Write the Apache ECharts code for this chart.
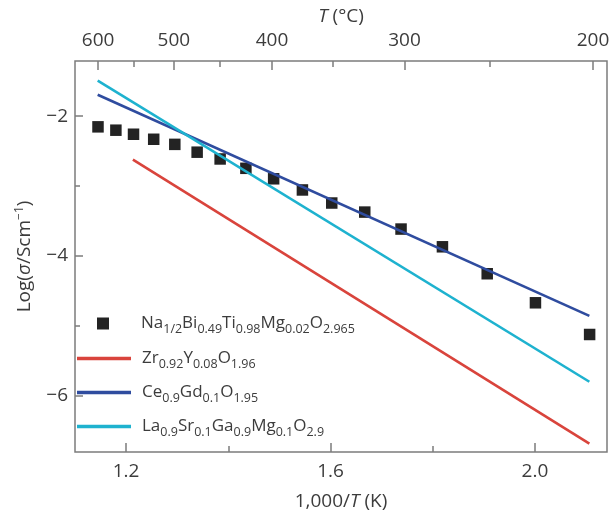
<!DOCTYPE html>
<html>
<head>
<meta charset="utf-8">
<script src="https://cdn.jsdelivr.net/npm/echarts@6/dist/echarts.min.js"></script>
<style>html,body{margin:0;padding:0;background:#fff}#c{width:609px;height:510px}</style>
</head>
<body>
<div id="c"></div>
<script>
// ---- data ----
const nbtX = [1.145, 1.180, 1.2145, 1.254, 1.2953, 1.339, 1.384, 1.4344, 1.4887, 1.545, 1.6024, 1.667, 1.738, 1.819, 1.9066, 2.001, 2.107];
const nbtY = [-2.153, -2.201, -2.259, -2.331, -2.404, -2.516, -2.613, -2.747, -2.897, -3.057, -3.244, -3.374, -3.617, -3.871, -4.257, -4.673, -5.127];
const zrX = [1.2133, 2.1065];
const zrY = [-2.623, -6.69];
const ceX = [1.1444, 2.1065];
const ceY = [-1.694, -4.861];
const laX = [1.1444, 2.1065];
const laY = [-1.49, -5.804];
const xMajorTicks = [1.2, 1.6, 2.0];
const xMinorTicks = [1.4, 1.8];
const topMajorT = [600, 500, 400, 300, 200];
const topMinorT = [550, 450, 350, 250];
const yMajorTicks = [-2, -4, -6];
const yMinorTicks = [-3, -5];
const seriesNames = ['NBT', 'YSZ', 'CGO', 'LSGM'];
const legendLabels = {
  NBT: '{m|Na}{s|1/2}{m|Bi}{s|0.49}{m|Ti}{s|0.98}{m|Mg}{s|0.02}{m|O}{s|2.965}',
  YSZ: '{m|Zr}{s|0.92}{m|Y}{s|0.08}{m|O}{s|1.96}',
  CGO: '{m|Ce}{s|0.9}{m|Gd}{s|0.1}{m|O}{s|1.95}',
  LSGM: '{m|La}{s|0.9}{m|Sr}{s|0.1}{m|Ga}{s|0.9}{m|Mg}{s|0.1}{m|O}{s|2.9}'
};

// ---- setup ----
const X_MIN = 1.1, X_MAX = 2.141, Y_MIN = -6.81, Y_MAX = -1.21;
const FONT = 'Open Sans';
const TXT = '#3c3c3c';
const AX = '#7c7c7c';
const RED = '#d9443c', BLUE = '#2f4c9f', CYAN = '#1eb2cf', BLK = '#232323';
const toK = t => 1000 / (t + 273.15);
const pairs = (xs, ys) => xs.map((x, i) => [x, ys[i]]);
const minus = v => (v < 0 ? '\u2212' : '') + Math.abs(v);

const legendRich = {
  m: { fontSize: 17, lineHeight: 22, color: TXT, fontFamily: FONT },
  s: { fontSize: 12.5, lineHeight: 13, padding: [12, 0, 0, 0], color: TXT, fontFamily: FONT }
};
function mkLegend(name, top, left, icon, w, h, padLeft) {
  return {
    data: [{ name: name, icon: icon, itemStyle: { opacity: 1 } }],
    left: left, top: top, itemWidth: w, itemHeight: h, itemGap: 0,
    padding: 0, selectedMode: false,
    formatter: n => legendLabels[n],
    textStyle: { rich: legendRich, color: TXT, fontFamily: FONT, padding: [0, 0, 0, padLeft] }
  };
}

const baseX = { type: 'value', min: X_MIN, max: X_MAX, splitLine: { show: false }, axisLine: { show: false } };
const baseY = { type: 'value', min: Y_MIN, max: Y_MAX, splitLine: { show: false }, axisLine: { show: false } };
const tickStyle = { color: AX, width: 1.5 };
const labStyle = { color: TXT, fontSize: 19, fontFamily: FONT };

const option = {
  animation: false,
  backgroundColor: '#fff',
  textStyle: { fontFamily: FONT },
  grid: { left: 75, right: 2, top: 61, bottom: 58, outerBoundsMode: 'none', containLabel: false,
          show: true, borderColor: AX, borderWidth: 1.5, backgroundColor: 'transparent' },
  legend: [
    mkLegend('NBT', 311, 97, 'rect', 12, 12, 27),
    mkLegend('YSZ', 346, 77, 'rect', 54, 3.5, 6),
    mkLegend('CGO', 380, 77, 'rect', 54, 3.5, 6),
    mkLegend('LSGM', 414, 77, 'rect', 54, 3.5, 6)
  ],
  xAxis: [
    Object.assign({}, baseX, {
      position: 'bottom',
      axisTick: { inside: true, length: 9, customValues: xMajorTicks, lineStyle: tickStyle },
      axisLabel: Object.assign({ customValues: xMajorTicks, formatter: v => v.toFixed(1), margin: 10 }, labStyle),
      name: '1,000/{i|T} (K)', nameLocation: 'middle', nameGap: 40,
      nameTextStyle: { color: TXT, fontSize: 19, fontFamily: FONT, rich: { i: { fontStyle: 'italic', fontSize: 19, color: TXT, fontFamily: FONT } } }
    }),
    Object.assign({}, baseX, {
      position: 'bottom',
      axisTick: { inside: true, length: 6, customValues: xMinorTicks, lineStyle: tickStyle },
      axisLabel: { show: false }
    }),
    Object.assign({}, baseX, {
      position: 'top',
      axisTick: { inside: true, length: 9, customValues: topMajorT.map(toK), lineStyle: tickStyle },
      axisLabel: Object.assign({ customValues: topMajorT.map(toK), formatter: v => String(Math.round(1000 / v - 273.15)), margin: 11 }, labStyle),
      name: '{i|T} (\u00B0C)', nameLocation: 'middle', nameGap: 33,
      nameTextStyle: { color: TXT, fontSize: 19, fontFamily: FONT, rich: { i: { fontStyle: 'italic', fontSize: 19, color: TXT, fontFamily: FONT } } }
    }),
    Object.assign({}, baseX, {
      position: 'top',
      axisTick: { inside: true, length: 6, customValues: topMinorT.map(toK), lineStyle: tickStyle },
      axisLabel: { show: false }
    })
  ],
  yAxis: [
    Object.assign({}, baseY, {
      position: 'left',
      axisTick: { inside: true, length: 8, customValues: yMajorTicks, lineStyle: tickStyle },
      axisLabel: Object.assign({ customValues: yMajorTicks, formatter: minus, margin: 7 }, labStyle),
      name: 'Log({i|\u03C3}/Scm{sup|\u22121})', nameLocation: 'middle', nameRotate: 90, nameGap: 40,
      nameTextStyle: { color: TXT, fontSize: 19, fontFamily: FONT, rich: {
        i: { fontStyle: 'italic', fontSize: 19, color: TXT, fontFamily: FONT },
        sup: { fontSize: 12, lineHeight: 12, padding: [0, 0, 10, 0], color: TXT, fontFamily: FONT }
      } }
    }),
    Object.assign({}, baseY, {
      position: 'left',
      axisTick: { inside: true, length: 5, customValues: yMinorTicks, lineStyle: tickStyle },
      axisLabel: { show: false }
    })
  ],
  series: [
    { name: 'NBT', type: 'scatter', xAxisIndex: 0, yAxisIndex: 0, symbol: 'rect', symbolSize: 11.5,
      itemStyle: { color: BLK, opacity: 1 }, data: pairs(nbtX, nbtY), z: 2 },
    { name: 'YSZ', type: 'line', xAxisIndex: 0, yAxisIndex: 0, symbol: 'none', showSymbol: false,
      lineStyle: { color: RED, width: 2.6 }, itemStyle: { color: RED }, data: pairs(zrX, zrY), z: 3 },
    { name: 'CGO', type: 'line', xAxisIndex: 0, yAxisIndex: 0, symbol: 'none', showSymbol: false,
      lineStyle: { color: BLUE, width: 2.6 }, itemStyle: { color: BLUE }, data: pairs(ceX, ceY), z: 3 },
    { name: 'LSGM', type: 'line', xAxisIndex: 0, yAxisIndex: 0, symbol: 'none', showSymbol: false,
      lineStyle: { color: CYAN, width: 2.6 }, itemStyle: { color: CYAN }, data: pairs(laX, laY), z: 3 }
  ]
};
const chart = echarts.init(document.getElementById('c'), null, { renderer: 'canvas' });
chart.setOption(option);
</script>
</body>
</html>
